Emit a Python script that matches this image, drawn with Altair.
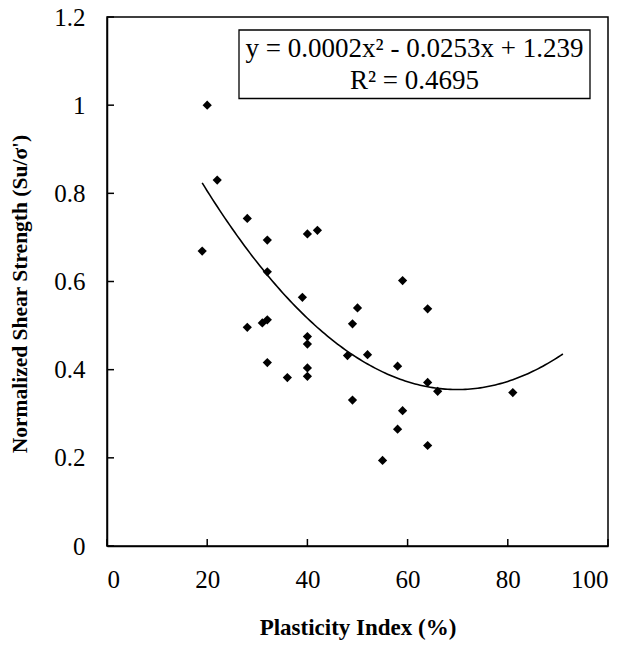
import altair as alt
import pandas as pd

# Data
plasticity_index = [20, 22, 28, 32, 19, 40, 42, 32, 39, 28, 31, 32, 40, 40, 32, 36, 40,
                    40, 59, 50, 64, 49, 48, 52, 58, 64, 66, 81, 49, 59, 58, 64, 55]
shear_strength = [1.0, 0.83, 0.743, 0.694, 0.669, 0.708, 0.716, 0.622, 0.564, 0.496,
                  0.506, 0.513, 0.475, 0.458, 0.416, 0.382, 0.404, 0.385, 0.602, 0.540,
                  0.538, 0.504, 0.432, 0.434, 0.408, 0.371, 0.351, 0.348, 0.331, 0.307,
                  0.265, 0.228, 0.194]
x_ticks = [0, 20, 40, 60, 80, 100]
y_ticks = [0, 0.2, 0.4, 0.6, 0.8, 1.0, 1.2]
# Polynomial trendline (order 2) as drawn in the reference, over its extent
trend_coef = [0.000181, -0.0253, 1.239]   # a, b, c  (y = a x^2 + b x + c)
trend_extent = [19, 91]
eq_line1 = "y = 0.0002x² - 0.0253x + 1.239"
eq_line2 = "R² = 0.4695"

W, H = 501, 529
FONT = "Liberation Serif"

df = pd.DataFrame({"pi": plasticity_index, "su": shear_strength})
xt = pd.DataFrame({"t": x_ticks})
yt = pd.DataFrame({"t": y_ticks})
one = pd.DataFrame({"a": [0]})

xscale = alt.Scale(domain=[0, 100], nice=False, zero=False)
yscale = alt.Scale(domain=[0, 1.2], nice=False, zero=False)

xaxis = alt.Axis(values=x_ticks, title="Plasticity Index (%)", ticks=False, grid=False,
                 labelPadding=21, titleY=88.5, titleBaseline="alphabetic", titleFontSize=23)
yaxis = alt.Axis(values=y_ticks, title="Normalized Shear Strength (Su/σ')", ticks=False,
                 grid=False, labelPadding=22, titleAngle=-90, titleX=-81, titleY=H / 2 + 12,
                 titleBaseline="alphabetic", titleAlign="center", titleFontSize=21.5,
                 labelExpr="datum.value == 0 ? '0' : format(datum.value, '.1~f')")

points = alt.Chart(df).mark_point(shape="diamond", filled=True, color="black", size=85, opacity=1).encode(
    x=alt.X("pi:Q", scale=xscale, axis=xaxis),
    y=alt.Y("su:Q", scale=yscale, axis=yaxis),
)

a, b, c = trend_coef
trend = alt.Chart(alt.sequence(trend_extent[0], trend_extent[1] + 0.25, 0.5, as_="pi")).transform_calculate(
    su=f"{a}*datum.pi*datum.pi + ({b})*datum.pi + {c}"
).mark_line(color="black", strokeWidth=1.6).encode(
    x=alt.X("pi:Q", scale=xscale),
    y=alt.Y("su:Q", scale=yscale),
)

xtick_rules = alt.Chart(xt).mark_rule(color="black", strokeWidth=1.5).encode(
    x=alt.X("t:Q", scale=xscale), y=alt.value(H), y2=alt.value(H - 7)
)
ytick_rules = alt.Chart(yt).mark_rule(color="black", strokeWidth=1.5).encode(
    y=alt.Y("t:Q", scale=yscale), x=alt.value(0), x2=alt.value(7)
)

box = alt.Chart(one).mark_rect(fill="white", stroke="black", strokeWidth=1.3).encode(
    x=alt.value(132), x2=alt.value(483), y=alt.value(13), y2=alt.value(81.5)
)
txt1 = alt.Chart(one).mark_text(font=FONT, fontSize=27, color="black", baseline="alphabetic").encode(
    x=alt.value(307.5), y=alt.value(40), text=alt.value(eq_line1)
)
txt2 = alt.Chart(one).mark_text(font=FONT, fontSize=27, color="black", baseline="alphabetic").encode(
    x=alt.value(307.5), y=alt.value(72), text=alt.value(eq_line2)
)

chart = alt.layer(xtick_rules, ytick_rules, trend, points, box, txt1, txt2).properties(
    width=W, height=H,
    autosize=alt.AutoSizeParams(type="none"),
    padding={"left": 99, "top": 9, "right": 20, "bottom": 105},
).configure_view(
    stroke="black", strokeWidth=1.5
).configure_axis(
    domainColor="black", domainWidth=1.5, labelFont=FONT, labelFontSize=25, labelColor="black",
    titleFont=FONT, titleFontWeight="bold", titleColor="black",
)

chart.save("out.html", embed_options={"renderer": "svg", "actions": False})
